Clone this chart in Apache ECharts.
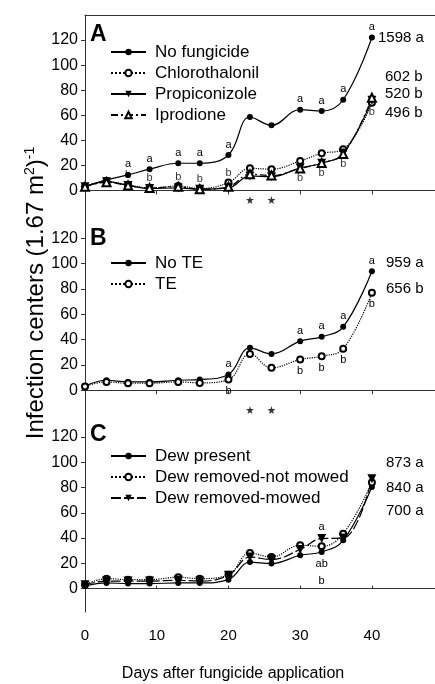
<!DOCTYPE html>
<html>
<head>
<meta charset="utf-8">
<script src="https://cdn.jsdelivr.net/npm/echarts@6/dist/echarts.min.js"></script>
<style>
html, body { margin: 0; padding: 0; background: #fff; }
#chart { width: 435px; height: 684px; }
</style>
</head>
<body>
<div id="chart"></div>
<script>
var days = [0, 3, 6, 9, 13, 16, 20, 23, 26, 30, 33, 36, 40];

// panel A
var noFungicide    = [3, 8.5, 12.4, 17, 21.7, 21.7, 28.3, 58.6, 52, 64.5, 63.4, 72.4, 122];
var chlorothalonil = [3, 7, 4.5, 2, 3.5, 1.5, 6.3, 17.7, 17, 23.5, 29.6, 32.8, 70];
var propiconizole  = [3, 7, 4, 1.5, 2, 1, 2, 11.6, 11, 18, 21.7, 29.6, 71.9];
var iprodione      = [3, 6.5, 4, 2, 3, 1, 3, 13, 12, 17.5, 22, 29, 74];
var lettersAHi = ['', '', 'a', 'a', 'a', 'a', 'a', '', '', 'a', 'a', 'a', 'a'];
var lettersALo = ['', '', 'b', 'b', 'b', 'b', 'b', '', '', 'b', 'b', 'b', 'b'];
var totalsA = ['1598 a', '602 b', '520 b', '496 b'];

// panel B
var noTE = [3.4, 7.9, 6.6, 6.6, 7.9, 8.4, 12.4, 33.5, 28.7, 38.8, 42.2, 50.1, 94.1];
var te   = [3, 6.6, 5.5, 5.5, 6.6, 5.8, 8.4, 28.7, 17.7, 24.3, 26.9, 32.7, 77];
var lettersBHi = ['', '', '', '', '', '', 'a', '', '', 'a', 'a', 'a', 'a'];
var lettersBLo = ['', '', '', '', '', '', 'b', '', '', 'b', 'b', 'b', 'b'];
var totalsB = ['959 a', '656 b'];

// panel C
var dewPresent  = [2, 4.5, 4, 4, 4.5, 4.5, 7.1, 21, 19.8, 26.4, 29, 38.2, 80.4];
var dewNotMowed = [3, 7.9, 7.1, 7.1, 9, 7.9, 11, 28.2, 25, 34.3, 33.5, 43.5, 84];
var dewMowed    = [3, 6, 6, 6, 6.6, 6, 10.5, 25, 23, 31, 39.6, 40, 87];
var lettersCHi = ['', '', '', '', '', '', '', '', '', '', 'a', '', ''];
var lettersCLo = ['', '', '', '', '', '', '', '', '', '', 'ab\nb', '', ''];
var totalsC = ['873 a', '840 a', '700 a'];

var starDays = [23, 26];
var xTicks = [0, 10, 20, 30, 40];
var yTicks = [0, 20, 40, 60, 80, 100, 120];

var FONT = 'Liberation Sans, Arial, sans-serif';
var STAR = 'path://M50,0 L61,35 L98,35 L68,57 L79,91 L50,70 L21,91 L32,57 L2,35 L39,35 Z';

var panels = [
    { top: 15,  height: 188, min: -10,   max: 140 },
    { top: 203, height: 210, min: -18,   max: 148 },
    { top: 413, height: 199, min: -18.5, max: 139 }
];

function pts(vals) {
    return days.map(function (d, i) { return [d, vals[i]]; });
}

function line(name, vals, g, symbol, size, dash, letters, pos) {
    var s = {
        name: name, type: 'line', xAxisIndex: g, yAxisIndex: g,
        data: pts(vals), smooth: 0.4,
        symbol: symbol, symbolSize: size,
        lineStyle: { color: '#000', width: 1.2, type: dash },
        itemStyle: { color: '#000', borderWidth: 1 },
        z: 3
    };
    if (letters) {
        s.label = {
            show: true, position: pos || 'top', distance: 2,
            fontSize: 11, color: '#000', fontFamily: FONT,
            formatter: function (p) { return letters[p.dataIndex]; }
        };
    }
    return s;
}

var downTri = function (s) { s.symbolRotate = 180; return s; };

// "b" letters for the fungicide treatments: above the group early, below it later
var lowA = [];
days.forEach(function (d, i) {
    if (!lettersALo[i]) return;
    var grp = [chlorothalonil[i], propiconizole[i], iprodione[i]];
    var early = d <= 20;
    lowA.push({
        value: [d, early ? Math.max.apply(null, grp) : Math.min.apply(null, grp)],
        label: { position: early ? 'top' : 'bottom', formatter: lettersALo[i] }
    });
});

var dewLo = line('Dew present', dewPresent, 2, 'circle', 6, 'solid', lettersCLo, 'bottom');
dewLo.label.lineHeight = 17;
dewLo.label.distance = 0;

var series = [
    line('No fungicide', noFungicide, 0, 'circle', 6, 'solid', lettersAHi),
    line('Chlorothalonil', chlorothalonil, 0, 'emptyCircle', 6, 'dotted'),
    downTri(line('Propiconizole', propiconizole, 0, 'triangle', 9, 'solid')),
    line('Iprodione', iprodione, 0, 'emptyTriangle', 8, [7, 3, 2, 3]),
    {
        type: 'scatter', xAxisIndex: 0, yAxisIndex: 0, data: lowA,
        symbolSize: 0, z: 5,
        label: { show: true, distance: 4, fontSize: 11, color: '#000', fontFamily: FONT }
    },
    line('No TE', noTE, 1, 'circle', 6, 'solid', lettersBHi),
    line('TE', te, 1, 'emptyCircle', 6, 'dotted', lettersBLo, 'bottom'),
    dewLo,
    line('Dew removed-not mowed', dewNotMowed, 2, 'emptyCircle', 6, 'dotted'),
    downTri(line('Dew removed-mowed', dewMowed, 2, 'triangle', 9, [10, 3], lettersCHi))
];

[0, 1].forEach(function (g) {
    series.push({
        type: 'scatter', xAxisIndex: g, yAxisIndex: g, clip: false,
        data: starDays.map(function (d) { return [d, panels[g].min]; }),
        symbol: STAR, symbolSize: 8, symbolOffset: [0, -3],
        itemStyle: { color: '#000' }, z: 6
    });
});

var grids = panels.map(function (p) {
    return { left: 85, right: 0, top: p.top, height: p.height };
});

var xAxes = panels.map(function (p, g) {
    return {
        type: 'value', gridIndex: g, min: 0, max: 48.8,
        axisLine: { show: true, lineStyle: { color: '#333', width: 1 } },
        axisTick: { show: true, customValues: xTicks, inside: g === 2, length: g === 2 ? 3 : 4,
                    lineStyle: { color: '#333' } },
        axisLabel: { show: g === 2, customValues: xTicks, fontSize: 15, color: '#000',
                     fontFamily: FONT, margin: 16 },
        splitLine: { show: false },
        name: g === 2 ? 'Days after fungicide application' : '',
        nameLocation: 'middle', nameGap: 54,
        nameTextStyle: { fontSize: 16, color: '#000', fontFamily: FONT, padding: [0, 54, 0, 0] }
    };
});
// top frame line of panel A
xAxes.push({
    type: 'value', gridIndex: 0, position: 'top', min: 0, max: 48.8,
    axisLine: { show: true, lineStyle: { color: '#333', width: 1 } },
    axisTick: { show: false }, axisLabel: { show: false }, splitLine: { show: false }
});

var yAxes = panels.map(function (p, g) {
    return {
        type: 'value', gridIndex: g, min: p.min, max: p.max,
        axisLine: { show: true, lineStyle: { color: '#333', width: 1 } },
        axisTick: { show: true, customValues: yTicks, length: 4, lineStyle: { color: '#333' } },
        axisLabel: { customValues: yTicks, fontSize: 16, color: '#000', fontFamily: FONT, margin: 7 },
        splitLine: { show: false }
    };
});

var legendBase = {
    orient: 'vertical', left: 105, itemWidth: 35, itemHeight: 8, itemGap: 1,
    textStyle: { fontSize: 17, lineHeight: 20, color: '#000', fontFamily: FONT, padding: [0, 0, 0, 4] },
    inactiveColor: '#000', selectedMode: false
};
var legends = [
    Object.assign({}, legendBase, { top: 37, data: ['No fungicide', 'Chlorothalonil', 'Propiconizole', 'Iprodione'] }),
    Object.assign({}, legendBase, { top: 248, data: ['No TE', 'TE'] }),
    Object.assign({}, legendBase, { top: 441, data: ['Dew present', 'Dew removed-not mowed', 'Dew removed-mowed'] })
];

// text outside the plot area
var graphics = [];
function txt(text, x, y, opts) {
    graphics.push({
        type: 'text', x: x, y: y,
        style: Object.assign({ text: text, fill: '#000', font: '15px ' + FONT, verticalAlign: 'middle' }, opts || {})
    });
}
txt('A', 90, 35, { font: 'bold 23px ' + FONT });
txt('B', 90, 239, { font: 'bold 23px ' + FONT });
txt('C', 90, 435, { font: 'bold 23px ' + FONT });

var totalsRows = [
    [totalsA, [38, 77, 94, 112.5], [378, 385, 385, 385]],
    [totalsB, [262.5, 289], [386, 386]],
    [totalsC, [462.5, 487.5, 511], [386, 386, 386]]
];
totalsRows.forEach(function (r) {
    r[0].forEach(function (t, i) { txt(t, r[2][i], r[1][i]); });
});

graphics.push({
    type: 'text', x: 36, y: 293, rotation: Math.PI / 2,
    style: {
        text: 'Infection centers (1.67 m{sup|2}){sup|-1}',
        fill: '#000', fontSize: 24, fontFamily: FONT,
        align: 'center', verticalAlign: 'middle',
        rich: { sup: { fontSize: 14, fontFamily: FONT, fill: '#000', verticalAlign: 'top', padding: [0, 0, 12, 0] } }
    }
});

var myChart = echarts.init(document.getElementById('chart'), null, { renderer: 'canvas' });
myChart.setOption({
    animation: false,
    backgroundColor: '#fff',
    grid: grids,
    xAxis: xAxes,
    yAxis: yAxes,
    legend: legends,
    series: series,
    graphic: graphics
});
</script>
</body>
</html>
